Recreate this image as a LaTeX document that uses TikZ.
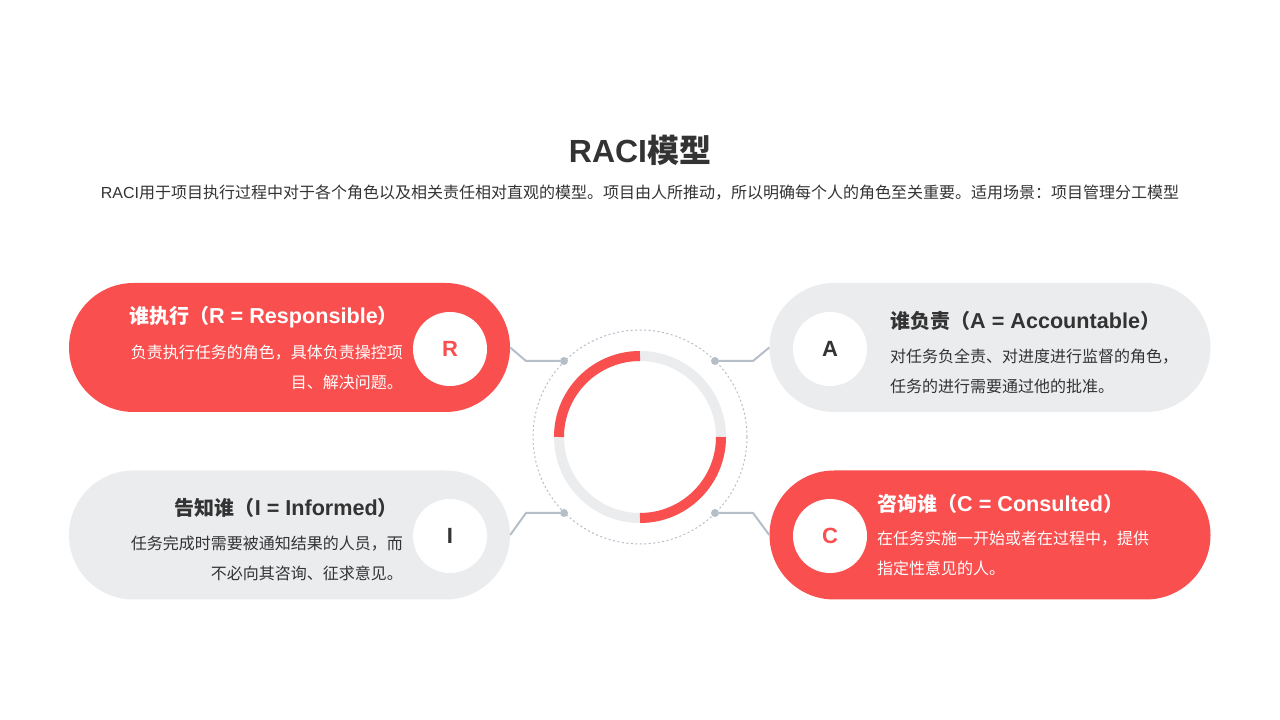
\documentclass[tikz,border=0pt]{standalone}
\usepackage{fontspec}
\setmainfont{Noto Sans CJK SC}
\newfontfamily\latinfont{Liberation Sans}
\newfontfamily\headlatin[Scale=1.08]{Liberation Sans}
\usetikzlibrary{calc}
\definecolor{raciRed}{HTML}{F94F4F}
\definecolor{raciGray}{HTML}{EBECEE}
\definecolor{raciText}{HTML}{333333}
\definecolor{raciLine}{HTML}{B6BEC9}

\begin{document}
\begin{tikzpicture}[x=1pt, y=1pt,
		pill/.style={rectangle, rounded corners=64.5pt, minimum width=441pt, minimum height=129pt, inner sep=0pt},
		badge/.style={circle, fill=white, minimum size=74pt, inner sep=0pt, font=\fontsize{22}{24}\selectfont\latinfont\bfseries},
		heading/.style={inner sep=0pt, font=\fontsize{20}{24}\selectfont\bfseries},
		body/.style={inner sep=0pt, font=\fontsize{16}{30}\selectfont},
		dot/.style={circle, fill=raciLine, minimum size=8pt, inner sep=0pt},
		link/.style={raciLine, line width=2pt, line join=round}]
			\useasboundingbox (0,0) rectangle (1280,720);
			\fill[white] (0,0) rectangle (1280,720);
			% title
			\node[font=\fontsize{32}{36}\selectfont\bfseries, text=raciText] (title) at (640,570) {{\latinfont RACI}模型};
			\node[font=\fontsize{16}{20}\selectfont, text=raciText] (intro) at (640,527) {{\latinfont RACI}用于项目执行过程中对于各个角色以及相关责任相对直观的模型。项目由人所推动，所以明确每个人的角色至关重要。适用场景：项目管理分工模型};
			% centre ring
			\coordinate (O) at (640,283);
			\draw[raciLine, line width=1pt, dash pattern=on 2pt off 2.5pt] (O) circle (107);
			\draw[raciGray, line width=10pt] (O) circle (81);
			\draw[raciRed, line width=10pt] ($(O)+(0,81)$) arc (90:180:81);
			\draw[raciRed, line width=10pt] ($(O)+(0,-81)$) arc (270:360:81);
			% four pills
			\node[pill, fill=raciRed] (rpill) at (289.5,372.5) {};
			\node[pill, fill=raciGray] (apill) at (990,372.5) {};
			\node[pill, fill=raciGray] (ipill) at (289.5,185) {};
			\node[pill, fill=raciRed] (cpill) at (990,185) {};
			\node[badge, text=raciRed] (R) at (450,371) {R};
			\node[badge, text=raciText] (A) at (830,371) {A};
			\node[badge, text=raciText] (I) at (450,184) {I};
			\node[badge, text=raciRed] (C) at (830,184) {C};
			% connectors
			\node[dot] (dr) at (564,359) {};
			\node[dot] (da) at (715,359) {};
			\node[dot] (di) at (564,207) {};
			\node[dot] (dc) at (715,207) {};
			\coordinate (br) at (526,359);
			\coordinate (ba) at (753,359);
			\coordinate (bi) at (526,207);
			\coordinate (bc) at (753,207);
			\draw[link] (rpill.east) -- (br) -- (dr);
			\draw[link] (apill.west) -- (ba) -- (da);
			\draw[link] (ipill.east) -- (bi) -- (di);
			\draw[link] (cpill.west) -- (bc) -- (dc);
			% texts
			\node[heading, text=white, anchor=east] (rhead) at (398,403) {谁执行（{\headlatin R = Responsible}）};
			\node[body, text=white, anchor=east, align=right] (rbody) at (403,353) {负责执行任务的角色，具体负责操控项\\目、解决问题。};
			\node[heading, text=raciText, anchor=west] (ahead) at (890,399) {谁负责（{\headlatin A = Accountable}）};
			\node[body, text=raciText, anchor=west, align=left] (abody) at (890,349) {对任务负全责、对进度进行监督的角色，\\任务的进行需要通过他的批准。};
			\node[heading, text=raciText, anchor=east] (ihead) at (398,212) {告知谁（{\headlatin I = Informed}）};
			\node[body, text=raciText, anchor=east, align=right] (ibody) at (403,162) {任务完成时需要被通知结果的人员，而\\不必向其咨询、征求意见。};
			\node[heading, text=white, anchor=west] (chead) at (877,216) {咨询谁（{\headlatin C = Consulted}）};
			\node[body, text=white, anchor=west, align=left] (cbody) at (877,166.5) {在任务实施一开始或者在过程中，提供\\指定性意见的人。};
		\end{tikzpicture}
\end{document}
